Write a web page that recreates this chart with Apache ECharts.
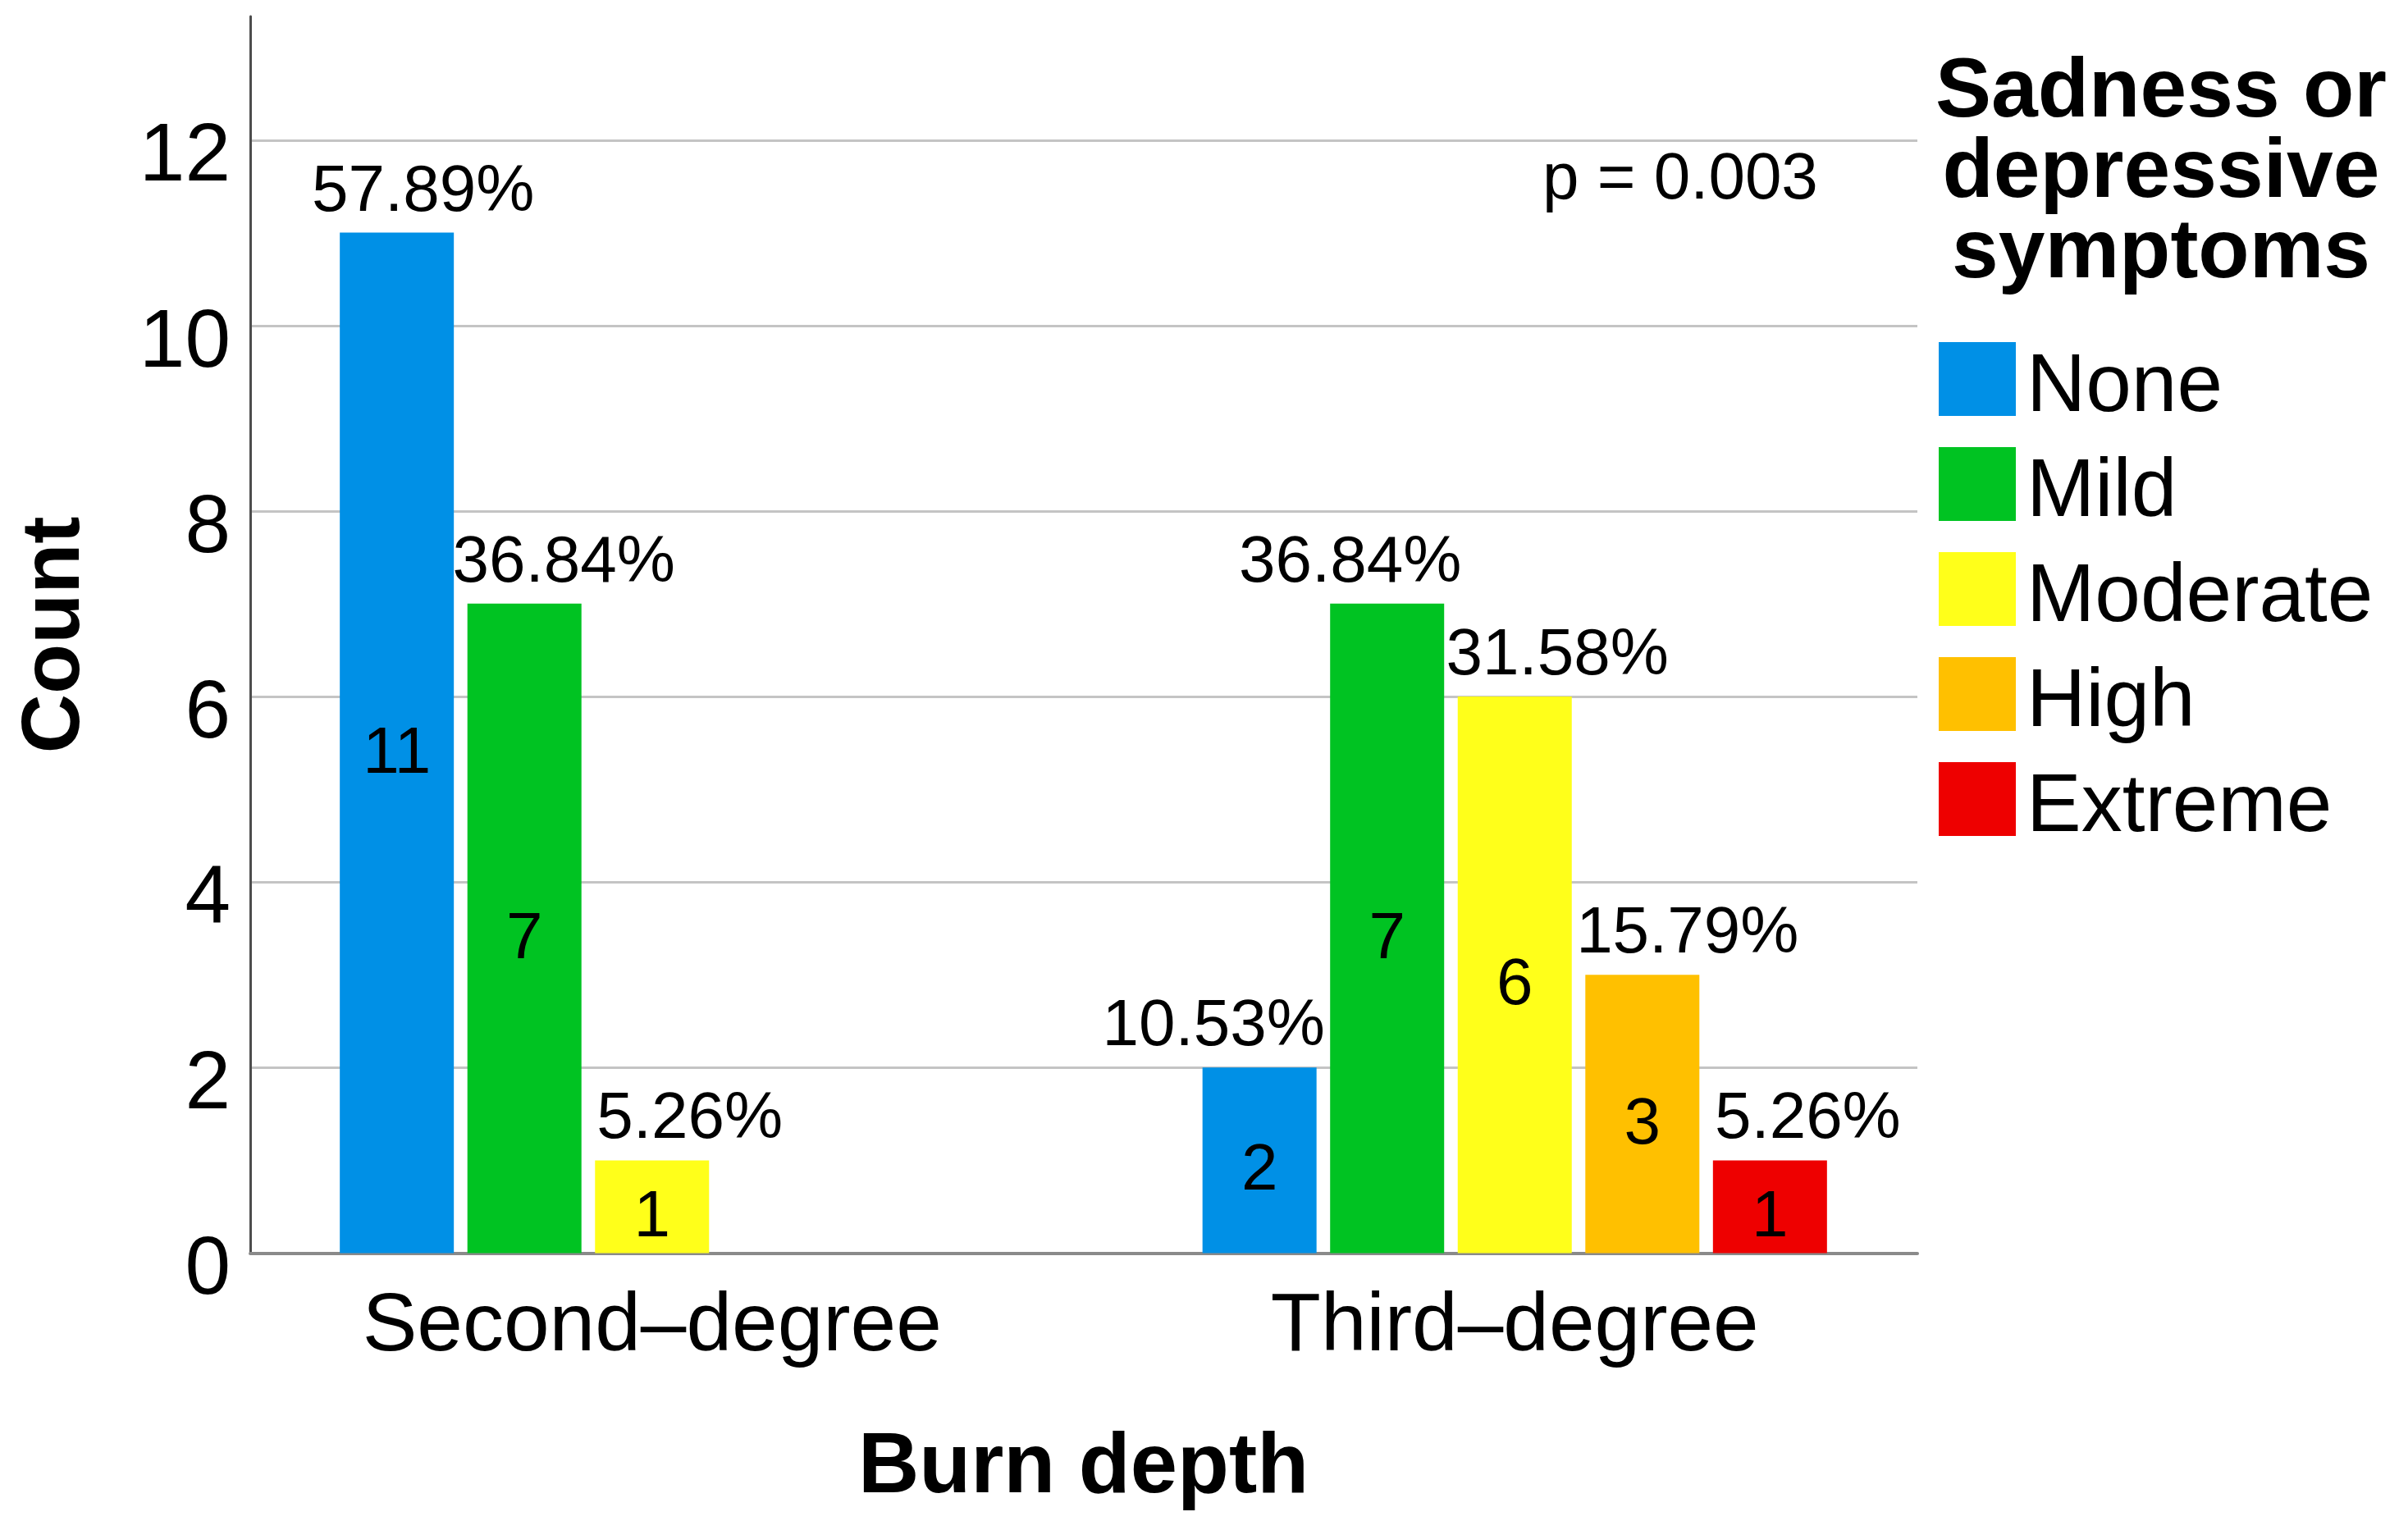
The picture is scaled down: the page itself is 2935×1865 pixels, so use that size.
<!DOCTYPE html>
<html>
<head>
<meta charset="utf-8">
<script src="https://cdn.jsdelivr.net/npm/echarts@6/dist/echarts.min.js"></script>
<style>
html,body{margin:0;padding:0;background:#fff;}
#chart{width:2935px;height:1865px;}
</style>
</head>
<body>
<div id="chart"></div>
<script>
//分类与数据
var categories=['Second–degree','Third–degree'];
var levels=['None','Mild','Moderate','High','Extreme'];
var noneCount=[11,2];
var mildCount=[7,7];
var moderateCount=[1,6];
var highCount=[null,3];
var extremeCount=[null,1];
var nonePct=['57.89%','10.53%'];
var mildPct=['36.84%','36.84%'];
var moderatePct=['5.26%','31.58%'];
var highPct=['','15.79%'];
var extremePct=['','5.26%'];
var yTicks=[0,2,4,6,8,10,12];
var pValue='p = 0.003';

//样式
var font="'Liberation Sans', Arial, Helvetica, sans-serif";
var colors=['#0090e6','#00c322','#ffff1a','#ffc000','#ee0000'];
var counts=[noneCount,mildCount,moderateCount,highCount,extremeCount];
var pcts=[nonePct,mildPct,moderatePct,highPct,extremePct];
//百分比标签的水平避让
var pctShift=[[32,-56],[48,-45],[46,52],[0,55],[0,46]];
var yMax=13.33;
var barW=139;
var gap='11.9%';

var series=[];
levels.forEach(function (name,s) {
    series.push({
        name:name,
        type:'bar',
        xAxisIndex:2,
        yAxisIndex:2,
        barWidth:barW,
        barGap:gap,
        itemStyle:{color:colors[s]},
        data:counts[s].map(function (v,i) {
            return {value:v,label:{offset:[pctShift[s][i],0]}};
        }),
        label:{
            show:true,
            position:'top',
            distance:9,
            fontFamily:font,
            fontSize:80,
            color:'#000',
            formatter:function (p) {
                return pcts[s][p.dataIndex];
            }
        },
        z:3
    });
});
//柱内计数标签（叠加透明柱）
levels.forEach(function (name,s) {
    series.push({
        name:name+' n',
        type:'bar',
        xAxisIndex:3,
        yAxisIndex:2,
        barWidth:barW,
        barGap:gap,
        silent:true,
        itemStyle:{color:'rgba(0,0,0,0)'},
        data:counts[s],
        label:{
            show:true,
            position:'inside',
            offset:[0,14],
            fontFamily:font,
            fontSize:80,
            color:'#000'
        },
        z:4
    });
});

var option={
    backgroundColor:'#fff',
    animation:false,
    title:[{
        text:'Sadness or\ndepressive\nsymptoms',
        left:2629,
        top:60,
        textAlign:'center',
        textStyle:{fontFamily:font,fontSize:102,fontWeight:'bold',lineHeight:98,color:'#000'}
    },{
        text:pValue,
        left:1875,
        top:175,
        textStyle:{fontFamily:font,fontSize:80,fontWeight:'normal',color:'#000'}
    }],
    legend:{
        data:levels,
        orient:'vertical',
        left:2358,
        top:396,
        itemWidth:94,
        itemHeight:90,
        itemGap:6,
        icon:'rect',
        selectedMode:false,
        formatter:'{n|{name}}',
        textStyle:{
            fontFamily:font,fontSize:100,color:'#000',
            rich:{n:{fontFamily:font,fontSize:100,color:'#000',lineHeight:80,padding:[22,0,0,8]}}
        }
    },
    grid:[
        {left:305,right:598,top:20,bottom:337.5},
        {left:305,right:598,top:170.9,bottom:337.5},
        {left:269,right:563,top:20,bottom:337.5}
    ],
    xAxis:[
        {gridIndex:0,type:'value',min:0,max:1,
            axisLine:{show:true,onZero:false,lineStyle:{color:'#8a8a8a',width:4}},
            axisTick:{show:false},axisLabel:{show:false},splitLine:{show:false}},
        {gridIndex:1,type:'value',show:false},
        {gridIndex:2,type:'category',data:categories,
            axisLine:{show:false},axisTick:{show:false},
            axisLabel:{fontFamily:font,fontSize:100,color:'#000',margin:41},
            name:'Burn depth',nameLocation:'middle',nameGap:212,
            nameTextStyle:{fontFamily:font,fontSize:103,fontWeight:'bold',color:'#000'}},
        {gridIndex:2,type:'category',data:categories,show:false}
    ],
    yAxis:[
        {gridIndex:0,type:'value',min:0,max:yMax,
            axisLine:{show:true,onZero:false,lineStyle:{color:'#4d4d4d',width:3}},
            axisTick:{show:false},axisLabel:{show:false},splitLine:{show:false},
            name:'Count',nameLocation:'middle',nameGap:187,nameRotate:90,
            nameTextStyle:{fontFamily:font,fontSize:100,fontWeight:'bold',color:'#000'}},
        {gridIndex:1,type:'value',min:yTicks[0],max:yTicks[yTicks.length-1],interval:yTicks[1]-yTicks[0],
            axisLine:{show:false},axisTick:{show:false},
            splitLine:{show:true,lineStyle:{color:'#c4c4c4',width:3}},
            axisLabel:{fontFamily:font,fontSize:100,color:'#000',margin:24,verticalAlign:'top',lineHeight:44}},
        {gridIndex:2,type:'value',min:0,max:yMax,show:false}
    ],
    series:series
};

var myChart=echarts.init(document.getElementById('chart'));
myChart.setOption(option);
</script>
</body>
</html>
